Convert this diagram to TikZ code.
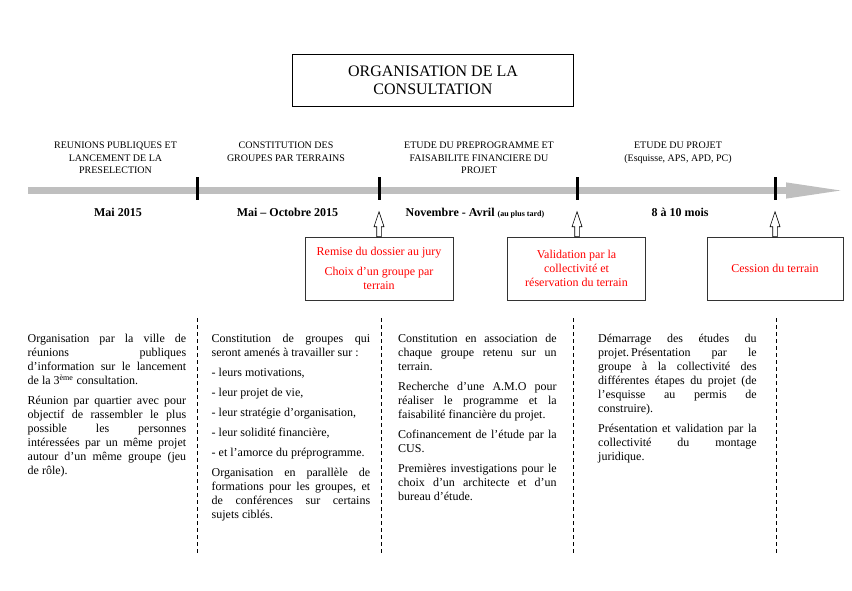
\documentclass[tikz,border=0pt]{standalone}
\usepackage{fontspec}
\setmainfont{Liberation Serif}
\usetikzlibrary{arrows.meta,calc}
\definecolor{grisfrise}{RGB}{191,191,191}
\tikzset{
  titre/.style={draw, line width=0.6pt, minimum width=281pt, minimum height=52pt, align=center, font=\fontsize{16}{17.5}\selectfont},
  frise/.style={line width=7pt, draw=grisfrise, -{Triangle[length=62pt, width=14pt]}},
  jalon/.style={line width=3pt},
  phase/.style={anchor=north, inner sep=0pt, align=center, font=\fontsize{10}{12.5}\selectfont},
  periode/.style={anchor=base, inner sep=0pt, font=\fontsize{12}{14}\selectfont\bfseries},
  etape/.style={draw=black!80, line width=0.6pt, text=red, align=center, minimum height=63pt, font=\fontsize{12}{14}\selectfont},
  fleche/.style={draw=black, line width=0.6pt, fill=white, line join=miter},
  separateur/.style={line width=0.9pt, dash pattern=on 4pt off 3pt},
  colonne/.style={anchor=north west, inner sep=0pt, text width=158.5pt, align=justify, font=\fontsize{12}{14}\selectfont,
    execute at begin node={\setlength{\parskip}{6pt}\setlength{\parindent}{0pt}\frenchspacing\tolerance=10000 \hbadness=10000 }},
}

\begin{document}
\begin{tikzpicture}[x=1pt, y=-1pt]
  \useasboundingbox (0,0) rectangle (852,590);

  \node[titre] (titre) at (433,80.5) {ORGANISATION DE LA\\CONSULTATION};

  % frise chronologique
  \draw[frise] (28,190.5) -- (848,190.5);
  \foreach \x [count=\i] in {197,379,577,775} {
    \coordinate (t\i) at (\x,190.5);
    \draw[jalon] (\x,177) -- (\x,200);
  }

  \node[phase] (phase1) at (115.5,141.7) {REUNIONS PUBLIQUES ET\\LANCEMENT DE LA\\PRESELECTION};
  \node[phase] (phase2) at (286,141.7) {CONSTITUTION DES\\GROUPES PAR TERRAINS};
  \node[phase] (phase3) at (479,141.7) {ETUDE DU PREPROGRAMME ET\\FAISABILITE FINANCIERE DU\\PROJET};
  \node[phase] (phase4) at (678,141.7) {ETUDE DU PROJET\\(Esquisse, APS, APD, PC)};

  \node[periode] (periode1) at (118,216) {Mai 2015};
  \node[periode] (periode2) at (287.5,216) {Mai – Octobre 2015};
  \node[periode] (periode3) at (475,216) {Novembre - Avril {\fontsize{8}{9}\selectfont(au plus tard)}};
  \node[periode] (periode4) at (680,216) {8 à 10 mois};

  % etapes
  \node[etape, minimum width=148pt] (remise) at (379,268.5) {Remise du dossier au jury\\[6pt]Choix d’un groupe par\\terrain};
  \node[etape, minimum width=138pt] (validation) at (576.5,268.5) {Validation par la\\collectivité et\\réservation du terrain};
  \node[etape, minimum width=136pt] (cession) at (775,268.5) {Cession du terrain};
  \foreach \b/\t in {remise/t2, validation/t3, cession/t4}
    \draw[fleche] ($(\b.north -| \t)+(-2.3,0)$) -- ++(0,-10) -- ++(-2.7,0) -- ++(5,-15) -- ++(5,15) -- ++(-2.7,0) -- ++(0,10) -- cycle;

  \foreach \x in {197,381,573,776}
    \draw[separateur] (\x,318) -- (\x,555);

  % textes des colonnes
  \node[colonne] (texte1) at (27.5,334) {Organisation par la ville de\linebreak réunions publiques\linebreak d’information sur le lancement\linebreak de la 3\textsuperscript{ème} consultation.\par
    Réunion par quartier avec pour\linebreak objectif de rassembler le plus\linebreak possible les personnes\linebreak intéressées par un même projet\linebreak autour d’un même groupe (jeu\linebreak de rôle).};
  \node[colonne] (texte2) at (211.5,334) {Constitution de groupes qui\linebreak seront amenés à travailler sur~:\par
    - leurs motivations,\par
    - leur projet de vie,\par
    - leur stratégie d’organisation,\par
    - leur solidité financière,\par
    - et l’amorce du préprogramme.\par
    Organisation en parallèle de\linebreak formations pour les groupes, et\linebreak de conférences sur certains\linebreak sujets ciblés.};
  \node[colonne] (texte3) at (398,334) {Constitution en association de\linebreak chaque groupe retenu sur un\linebreak terrain.\par
    Recherche d’une A.M.O pour\linebreak réaliser le programme et la\linebreak faisabilité financière du projet.\par
    Cofinancement de l’étude par la\linebreak CUS.\par
    Premières investigations pour le\linebreak choix d’un architecte et d’un\linebreak bureau d’étude.};
  \node[colonne] (texte4) at (598,334) {Démarrage des études du\linebreak projet.\,Présentation par le\linebreak groupe à la collectivité des\linebreak différentes étapes du projet (de\linebreak l’esquisse au permis de\linebreak construire).\par
    Présentation et validation par la\linebreak collectivité du montage\linebreak juridique.};
\end{tikzpicture}
\end{document}
